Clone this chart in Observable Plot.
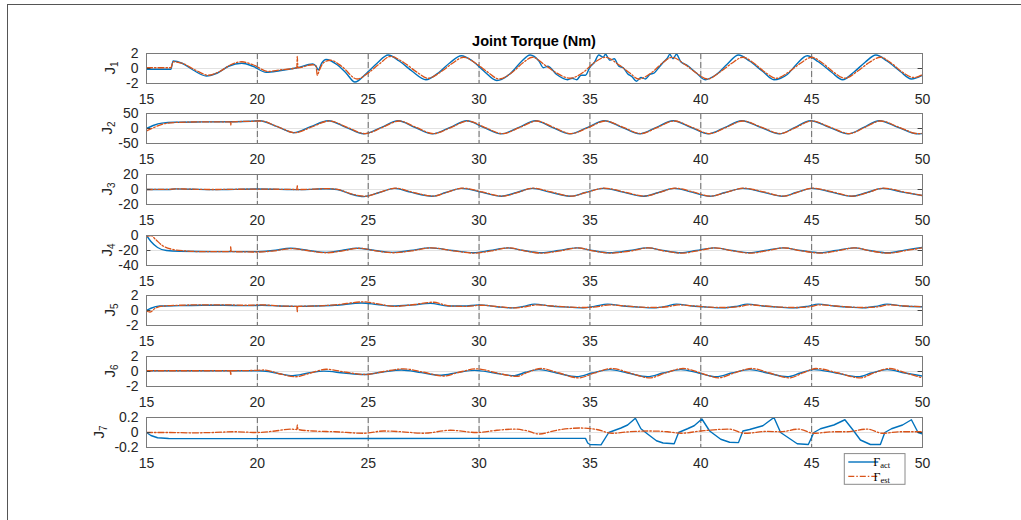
<!DOCTYPE html>
<html><head><meta charset="utf-8">
<script src="https://cdn.jsdelivr.net/npm/d3@7"></script>
<script src="https://cdn.jsdelivr.net/npm/@observablehq/plot@0.6"></script>
<style>
html,body{margin:0;padding:0;background:#fff;}
#root{position:relative;width:1021px;height:520px;overflow:hidden;font-family:"Liberation Sans",Arial,sans-serif;}
#frame{position:absolute;left:7px;top:4px;right:-5px;bottom:-5px;border-left:1px solid #555;border-top:1px solid #555;}
#title{position:absolute;left:0;width:1068px;top:33px;text-align:center;font-weight:bold;font-size:14.5px;line-height:16px;color:#000;}
svg{position:absolute;left:0;}
</style></head><body>
<div id="root"><div id="frame"></div><div id="title">Joint Torque (Nm)</div></div>
<script>
const titleText = "Joint Torque (Nm)";
const xTicks = [15,20,25,30,35,40,45,50];
const jointNames = ["1","2","3","4","5","6","7"];
const yDomains = [[-2,2],[-50,50],[-20,20],[-40,0],[-2,2],[-2,2],[-0.2,0.2]];
const yTickSets = [[-2,0,2],[-50,0,50],[-20,0,20],[-40,-20,0],[-2,0,2],[-2,0,2],[-0.2,0,0.2]];
const legendLabels = [["Γ","act"],["Γ","est"]];

const j1Act = [[15.0,-0.1],[16.1,-0.1],[16.2,1.0],[16.6,0.7],[17.1,-0.2],[17.7,-1.0],[18.2,-0.6],[18.7,0.3],[19.3,0.7],[19.8,0.3],[20.4,-0.5],[21.0,-0.3],[21.8,0.1],[22.5,0.6],[22.65,0.3],[22.75,-0.2],[22.9,0.7],[23.1,1.2],[23.6,0.5],[24.0,-0.6],[24.4,-1.8],[24.9,-0.7],[25.4,0.7],[25.9,1.8],[26.4,1.0],[27.0,-0.4],[27.6,-1.5],[28.2,-0.5],[28.7,0.8],[29.2,1.7],[29.7,1.0],[30.2,-0.3],[30.8,-1.6],[31.4,-0.7],[31.9,0.9],[32.3,1.8],[32.7,1.0],[32.9,0.1],[33.1,0.3],[33.5,-0.8],[34.0,-1.5],[34.2,-1.3],[34.4,-1.5],[34.6,-0.9],[34.8,-0.9],[35.0,0.2],[35.2,0.8],[35.4,1.8],[35.6,1.5],[35.7,1.9],[35.9,1.1],[36.1,1.3],[36.3,0.3],[36.5,0.1],[36.7,-0.7],[36.9,-1.1],[37.1,-1.7],[37.3,-1.2],[37.5,-1.4],[37.7,-0.8],[37.9,-0.6],[38.1,0.1],[38.3,0.8],[38.5,1.4],[38.6,1.9],[38.75,1.3],[38.9,1.9],[39.1,0.9],[39.4,0.4],[39.8,-0.6],[40.2,-1.5],[40.7,-0.8],[41.2,0.6],[41.7,1.8],[42.2,1.0],[42.8,-0.4],[43.3,-1.5],[43.6,-1.3],[43.9,-0.8],[44.3,0.5],[44.8,1.7],[45.3,0.9],[45.9,-0.5],[46.4,-1.5],[46.9,-0.5],[47.4,0.8],[47.9,1.8],[48.4,1.0],[49.0,-0.4],[49.5,-1.4],[50.0,-0.9]];
const j1Est = [[15.0,0.1],[16.1,0.1],[16.2,0.9],[16.6,0.7],[17.2,-0.2],[17.8,-0.9],[18.3,-0.4],[18.8,0.5],[19.3,0.9],[19.8,0.5],[20.5,-0.4],[21.0,-0.2],[21.78,0.1],[21.8,1.6],[21.83,0.1],[22.5,0.5],[22.65,0.3],[22.7,-0.9],[22.8,-0.2],[23.0,0.8],[23.3,1.1],[23.8,0.3],[24.5,-1.4],[25.0,-0.6],[25.5,0.6],[26.0,1.6],[26.6,0.8],[27.2,-0.5],[27.7,-1.3],[28.3,-0.4],[28.8,0.7],[29.3,1.5],[29.9,0.6],[30.4,-0.5],[30.9,-1.4],[31.5,-0.5],[32.0,0.8],[32.4,1.5],[33.0,0.4],[33.5,-0.6],[34.1,-1.3],[34.7,-0.5],[35.2,0.8],[35.7,1.5],[36.3,0.5],[36.8,-0.6],[37.2,-1.4],[37.8,-0.5],[38.3,0.8],[38.7,1.5],[39.3,0.5],[39.8,-0.6],[40.3,-1.4],[40.9,-0.4],[41.4,0.7],[41.9,1.5],[42.4,0.7],[42.9,-0.5],[43.4,-1.3],[44.0,-0.4],[44.5,0.7],[45.0,1.5],[45.5,0.7],[46.0,-0.5],[46.5,-1.3],[47.1,-0.3],[47.6,0.8],[48.1,1.5],[48.6,0.7],[49.1,-0.5],[49.6,-1.2],[50.0,-0.8]];

const j2Act = [[15,0],[15.3,10],[15.7,18],[16.3,21],[17.5,22],[19,22.5],[19.7,24],[20.1,26],[20.9,6],[21.65,-14],[22.4,6],[23.2,26],[24.0,4],[24.8,-18],[25.6,4],[26.35,26],[27.1,4],[27.9,-18],[28.7,4],[29.45,26],[30.2,4],[31.0,-18],[31.8,4],[32.55,26],[33.3,4],[34.1,-18],[34.9,4],[35.65,26],[36.45,4],[37.25,-18],[38.0,4],[38.75,26],[39.55,4],[40.35,-18],[41.1,4],[41.85,26],[42.7,4],[43.55,-18],[44.25,4],[44.95,26],[45.8,4],[46.65,-18],[47.35,4],[48.05,26],[48.9,4],[49.75,-18],[50,-17]];
const j2Est = [[15,-8],[15.3,2],[15.7,14],[16.3,20],[17.5,22],[18.78,22],[18.8,12],[18.82,22],[19.7,24],[20.15,25],[20.95,5],[21.7,-14],[22.45,5],[23.25,25],[24.05,4],[24.85,-17],[25.65,4],[26.4,25],[27.15,4],[27.95,-17],[28.75,4],[29.5,25],[30.25,4],[31.05,-17],[31.85,4],[32.6,25],[33.35,4],[34.15,-17],[34.95,4],[35.7,25],[36.5,4],[37.3,-17],[38.05,4],[38.8,25],[39.6,4],[40.4,-17],[41.15,4],[41.9,25],[42.75,4],[43.6,-17],[44.3,4],[45.0,25],[45.85,4],[46.7,-17],[47.4,4],[48.1,25],[48.95,4],[49.8,-17],[50,-16]];

const j3Act = [[15,0],[16,0],[16.3,0.8],[17,0.4],[18,-0.2],[19,0.2],[20,0.6],[21,0.2],[22,-0.2],[22.6,0.5],[23.1,1.0],[23.6,0],[24.2,-6],[24.8,-9.5],[25.5,-4],[26.2,1.5],[26.9,-3.5],[27.9,-9],[28.5,-4],[29.2,1.5],[30.1,-3.5],[31.0,-9],[31.7,-4],[32.4,1.5],[33.2,-3.5],[34.1,-9],[34.8,-4],[35.6,1.5],[36.5,-3.5],[37.4,-9],[38.1,-4],[38.8,1.5],[39.6,-3.5],[40.4,-9],[41.1,-4],[41.9,1.5],[42.8,-3.5],[43.7,-9],[44.3,-4],[45.0,1.5],[45.9,-3.5],[46.8,-9],[47.5,-4],[48.2,1.5],[49.1,-3.5],[50,-8]];
const j3Est = [[15,0],[16,0.2],[16.3,0.8],[17,0.5],[18,0],[19,0.3],[20,0.5],[21,0.3],[21.78,0],[21.8,5],[21.82,0],[22.6,0.5],[23.1,1.2],[23.6,0.2],[24.2,-5.5],[24.85,-9],[25.5,-4],[26.25,1.8],[26.95,-3.2],[27.95,-8.8],[28.55,-3.8],[29.25,1.8],[30.15,-3.3],[31.05,-8.8],[31.75,-3.8],[32.45,1.8],[33.25,-3.3],[34.15,-8.8],[34.85,-3.8],[35.65,1.8],[36.55,-3.3],[37.45,-8.8],[38.15,-3.8],[38.85,1.8],[39.65,-3.3],[40.45,-8.8],[41.15,-3.8],[41.95,1.8],[42.85,-3.3],[43.75,-8.8],[44.35,-3.8],[45.05,1.8],[45.95,-3.3],[46.85,-8.8],[47.55,-3.8],[48.25,1.8],[49.15,-3.3],[50,-8]];

const j4Act = [[15,0],[15.2,-8],[15.5,-16],[15.9,-20],[16.5,-21],[18,-21.5],[20,-21.5],[20.7,-20],[21.5,-17],[22.3,-20],[23.1,-22.5],[23.8,-20],[24.5,-17],[25.3,-20],[26.1,-22.5],[26.9,-20],[27.8,-16.5],[28.8,-20],[29.75,-23],[30.5,-20],[31.3,-16.5],[32.0,-20],[32.8,-23],[33.6,-20],[34.4,-16.5],[35.1,-20],[35.9,-23],[36.8,-20],[37.6,-16.5],[38.3,-20],[39.1,-23],[39.8,-20],[40.6,-16.5],[41.4,-20],[42.2,-23],[42.9,-20],[43.7,-16.5],[44.5,-20],[45.4,-23],[46.1,-20],[46.9,-16.5],[47.6,-20],[48.4,-23],[49.2,-19.5],[50,-16]];
const j4Est = [[15,-1],[15.2,0],[15.4,-5],[15.7,-13],[16.1,-18],[16.7,-20.5],[17.5,-21.5],[18.78,-21.5],[18.8,-15],[18.82,-21.5],[20,-22],[20.75,-20.5],[21.55,-17.5],[22.35,-20.5],[23.15,-23],[23.85,-20.5],[24.55,-17],[25.35,-20.5],[26.15,-23],[26.95,-20.5],[27.85,-16.5],[28.85,-20.5],[29.8,-23.5],[30.55,-20.5],[31.35,-16.5],[32.05,-20.5],[32.85,-23.5],[33.65,-20.5],[34.45,-16.5],[35.15,-20.5],[35.95,-23.5],[36.85,-20.5],[37.65,-16.5],[38.35,-20.5],[39.15,-23.5],[39.85,-20.5],[40.65,-16.5],[41.45,-20.5],[42.25,-23.5],[42.95,-20.5],[43.75,-16.5],[44.55,-20.5],[45.45,-23.5],[46.15,-20.5],[46.95,-16.5],[47.65,-20.5],[48.45,-23.5],[49.25,-20],[50,-16.5]];

const j5Act = [[15,0.0],[15.2,0.3],[15.6,0.6],[16.5,0.65],[17.5,0.7],[18.5,0.7],[19.5,0.65],[20.2,0.7],[21,0.6],[21.8,0.55],[22.6,0.6],[23.5,0.7],[24.7,1.0],[25.4,0.8],[26.1,0.6],[27.0,0.75],[27.8,0.95],[28.6,0.6],[29.3,0.6],[30.0,0.75],[30.8,0.5],[31.5,0.35],[32.0,0.55],[32.5,0.85],[33.2,0.6],[34.0,0.45],[34.7,0.35],[35.2,0.55],[35.8,0.85],[36.5,0.6],[37.2,0.45],[37.9,0.35],[38.4,0.55],[38.9,0.85],[39.6,0.6],[40.3,0.45],[41.0,0.35],[41.6,0.55],[42.1,0.85],[42.8,0.6],[43.5,0.45],[44.2,0.35],[44.8,0.55],[45.3,0.85],[46.0,0.6],[46.7,0.45],[47.3,0.35],[47.9,0.55],[48.4,0.85],[49.1,0.6],[50,0.5]];
const j5Est = [[15,-0.1],[15.15,-0.2],[15.4,0.3],[15.8,0.6],[16.5,0.7],[17.5,0.75],[18.5,0.75],[19.5,0.7],[20.2,0.75],[21,0.6],[21.78,0.55],[21.8,-0.15],[21.82,0.55],[22.6,0.6],[23.5,0.75],[24.8,1.15],[25.5,0.85],[26.2,0.55],[27.1,0.8],[27.9,1.1],[28.7,0.6],[29.4,0.55],[30.1,0.7],[30.9,0.5],[31.6,0.35],[32.1,0.5],[32.6,0.75],[33.3,0.6],[34.1,0.45],[34.8,0.4],[35.3,0.5],[35.9,0.75],[36.6,0.6],[37.3,0.45],[38.0,0.4],[38.5,0.5],[39.0,0.75],[39.7,0.6],[40.4,0.45],[41.1,0.4],[41.7,0.5],[42.2,0.75],[42.9,0.6],[43.6,0.45],[44.3,0.4],[44.9,0.5],[45.4,0.75],[46.1,0.6],[46.8,0.45],[47.4,0.4],[48.0,0.5],[48.5,0.75],[49.2,0.6],[50,0.5]];

const j6Act = [[15,0.1],[20,0.1],[20.5,0.0],[21.0,-0.3],[21.6,-0.55],[22.3,-0.2],[23.0,0.05],[23.9,-0.2],[24.8,-0.4],[25.6,-0.1],[26.5,0.2],[27.4,-0.15],[28.3,-0.5],[29.0,-0.15],[29.8,0.15],[30.7,-0.2],[31.6,-0.55],[32.1,-0.1],[32.7,0.25],[33.5,-0.2],[34.4,-0.7],[35.1,-0.2],[35.9,0.25],[36.7,-0.2],[37.6,-0.7],[38.3,-0.2],[39.1,0.25],[39.9,-0.2],[40.7,-0.7],[41.4,-0.2],[42.2,0.25],[43.0,-0.2],[43.9,-0.7],[44.5,-0.2],[45.1,0.25],[46.1,-0.2],[47.1,-0.7],[47.7,-0.2],[48.4,0.25],[49.2,-0.2],[50,-0.6]];
const j6Est = [[15,0.1],[18.78,0.1],[18.8,-0.45],[18.82,0.1],[20,0.15],[20.3,0.2],[21.0,-0.3],[21.7,-0.7],[22.4,-0.2],[23.1,0.3],[24.0,-0.1],[24.9,-0.4],[25.7,0.0],[26.6,0.35],[27.5,-0.1],[28.4,-0.6],[29.1,-0.1],[29.9,0.35],[30.8,-0.2],[31.7,-0.65],[32.2,-0.1],[32.8,0.4],[33.6,-0.2],[34.5,-0.85],[35.2,-0.2],[36.0,0.4],[36.8,-0.2],[37.7,-0.85],[38.4,-0.2],[39.2,0.4],[40.0,-0.2],[40.8,-0.85],[41.5,-0.2],[42.3,0.4],[43.1,-0.2],[44.0,-0.85],[44.6,-0.2],[45.2,0.4],[46.2,-0.2],[47.2,-0.85],[47.8,-0.2],[48.5,0.4],[49.3,-0.25],[50,-0.85]];

const j7Act = [[15,0],[15.2,-0.04],[15.5,-0.07],[16,-0.08],[20,-0.082],[25,-0.08],[30,-0.078],[34.8,-0.078],[34.9,-0.14],[35.0,-0.16],[35.5,-0.165],[35.85,0.0],[36.4,0.06],[36.7,0.1],[37.05,0.19],[37.3,0.05],[37.6,-0.02],[38.0,-0.11],[38.3,-0.14],[38.8,-0.15],[39.0,0.0],[39.4,0.05],[39.7,0.09],[40.05,0.18],[40.4,0.02],[40.9,-0.09],[41.3,-0.13],[41.7,-0.135],[41.9,0.02],[42.2,0.04],[42.8,0.09],[43.3,0.2],[43.6,0.0],[44.05,-0.09],[44.35,-0.15],[44.85,-0.16],[45.1,0.0],[45.4,0.05],[46.0,0.1],[46.5,0.17],[46.9,0.02],[47.2,-0.1],[47.65,-0.16],[48.1,-0.16],[48.3,0.0],[48.6,0.05],[49.1,0.1],[49.5,0.17],[49.8,0.0],[50,-0.02]];
const j7Est = [[15,0.0],[16,0.0],[17,-0.005],[18,0.0],[19,0.01],[20,0.0],[20.8,0.02],[21.5,0.045],[21.78,0.04],[21.8,0.1],[21.83,0.04],[22.5,0.02],[23.5,0.01],[24.8,-0.01],[25.7,0.02],[26.5,0.01],[27.5,-0.01],[28.7,0.03],[29.9,0.0],[30.8,0.03],[31.6,0.045],[32.2,0.02],[32.7,-0.02],[33.5,0.03],[34.6,0.06],[35.3,0.04],[36.0,-0.01],[36.8,0.01],[37.7,0.02],[38.5,0.01],[39.1,-0.01],[40.0,0.02],[41.25,0.045],[42.0,-0.01],[43.0,0.015],[43.6,0.01],[44.4,0.045],[45.1,-0.01],[46.0,0.01],[46.6,0.01],[47.5,0.045],[48.2,-0.01],[49.0,0.01],[50.0,0.01]];

const actSeries = [j1Act,j2Act,j3Act,j4Act,j5Act,j6Act,j7Act];
const estSeries = [j1Est,j2Est,j3Est,j4Est,j5Est,j6Est,j7Est];

const BLUE = "#0072BD", ORANGE = "#D95319";
const SANS = '"Liberation Sans", Arial, Helvetica, sans-serif';
const T0 = 52.5, DT = 60.7, PH = 30, MT = 4, MB = 26;
const labelX = [115,112,112,112,115,115,104];
const root = document.getElementById("root");
document.getElementById("title").textContent = titleText;

jointNames.forEach((name, i) => {
  const last = i === 6;
  const mb = last ? 80 : MB;
  const svg = Plot.plot({
    width: 1021, height: MT + PH + mb,
    marginTop: MT, marginBottom: mb, marginLeft: 146, marginRight: 99,
    style: {fontFamily: SANS, fontSize: "14px", color: "#262626", background: "transparent", overflow: "visible"},
    x: {domain: [15,50], ticks: xTicks, tickSize: 0, tickPadding: 10.5, tickFormat: d => String(d), label: null},
    y: {domain: yDomains[i], ticks: yTickSets[i], tickSize: 0, tickPadding: 8, tickFormat: d => String(d), label: null},
    marks: [
      Plot.ruleY(yTickSets[i], {stroke: "#e2e2e2"}),
      Plot.ruleX(xTicks.slice(1, -1), {stroke: "#dedede"}),
      Plot.ruleX(xTicks.slice(1, -1), {stroke: "#6a6a6a", strokeDasharray: "6,3"}),
      Plot.line(actSeries[i], {x: d => d[0], y: d => d[1], stroke: BLUE, strokeWidth: 1.4, curve: last ? "linear" : "monotone-x", clip: true}),
      Plot.line(estSeries[i], {x: d => d[0], y: d => d[1], stroke: ORANGE, strokeWidth: 1.3, strokeDasharray: "6,2,1.5,2", curve: "monotone-x", clip: true}),
      Plot.ruleY(yTickSets[i], {x1: 15, x2: 15.2, stroke: "#444"}),
      Plot.ruleY(yTickSets[i], {x1: 49.8, x2: 50, stroke: "#444"}),
      Plot.frame({stroke: "#7a7a7a"})
    ]
  });
  const top = T0 + i * DT - MT;
  svg.style.top = top + "px";
  const s = d3.select(svg);
  const t = s.append("text")
    .attr("transform", `translate(${labelX[i]},${MT + PH / 2}) rotate(-90)`)
    .attr("text-anchor", "middle").attr("font-family", SANS).attr("font-size", 15).attr("fill", "#262626");
  t.append("tspan").attr("font-family", SANS).text("J");
  t.append("tspan").attr("font-family", SANS).attr("font-size", 10).attr("dy", 3).text(name);

  if (last) {
    const by = 453.3 - top, bx = 844.3;
    const g = s.append("g");
    g.append("rect").attr("x", bx).attr("y", by).attr("width", 60.7).attr("height", 30.7)
      .attr("fill", "#fff").attr("stroke", "#8a8a8a");
    const styles = [[BLUE, null], [ORANGE, "6,2,1.5,2"]];
    legendLabels.forEach((lab, k) => {
      const ly = by + 8.4 + k * 14.3;
      const ln = g.append("line").attr("x1", bx + 4).attr("x2", bx + 34).attr("y1", ly).attr("y2", ly)
        .attr("stroke", styles[k][0]).attr("stroke-width", k ? 1.3 : 1.4);
      if (styles[k][1]) ln.attr("stroke-dasharray", styles[k][1]);
      const tx = g.append("text").attr("x", bx + 37.4).attr("y", ly + 4.2)
        .attr("font-family", '"Liberation Serif", "Times New Roman", serif').attr("font-size", 12).attr("fill", "#000");
      tx.append("tspan").text(lab[0]);
      tx.append("tspan").attr("font-size", 8.5).attr("dy", 2).text(lab[1]);
    });
  }
  root.appendChild(svg);
});
</script>
</body></html>
